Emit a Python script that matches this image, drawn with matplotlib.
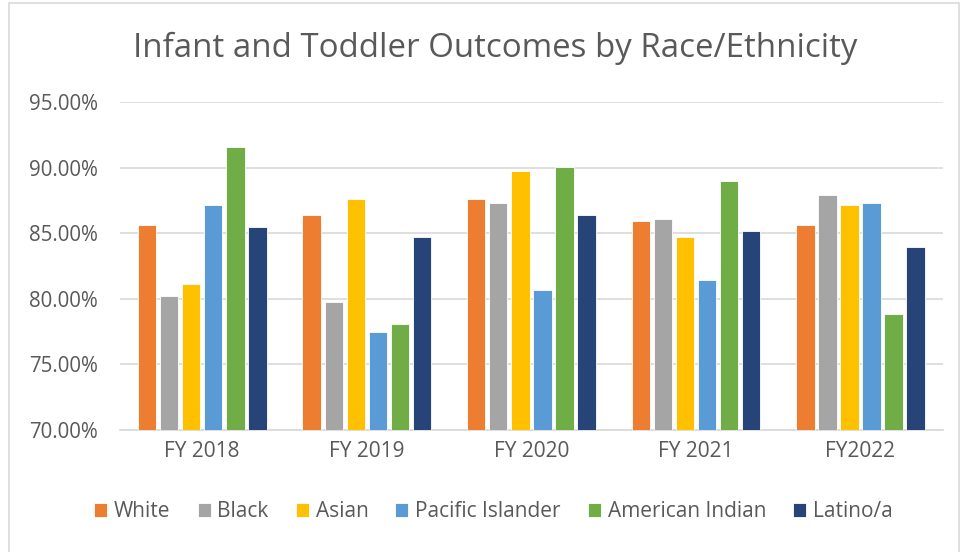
import numpy as np
import matplotlib
matplotlib.use("Agg")
import matplotlib.pyplot as plt
from matplotlib.ticker import FuncFormatter

# ── data ─────────────────────────────────────────────────────────────
years = ["FY 2018", "FY 2019", "FY 2020", "FY 2021", "FY2022"]
groups = ["White", "Black", "Asian", "Pacific Islander", "American Indian", "Latino/a"]
white = [85.63, 86.40, 87.64, 85.96, 85.63]
black = [80.20, 79.77, 87.34, 86.09, 87.92]
asian = [81.12, 87.61, 89.75, 84.75, 87.16]
pacific = [87.16, 77.49, 80.66, 81.42, 87.34]
american_indian = [91.57, 78.10, 90.05, 88.98, 78.81]
latino = [85.51, 84.75, 86.40, 85.18, 83.96]
series = [white, black, asian, pacific, american_indian, latino]
colors = ["#ED7D31", "#A5A5A5", "#FFC000", "#5B9BD5", "#70AD47", "#264478"]

plt.rcParams["font.family"] = ["Open Sans", "DejaVu Sans"]
txt = "#595959"

fig = plt.figure(figsize=(9.62, 5.52), dpi=100)
fig.patch.set_facecolor("white")
ax = fig.add_axes([0.1247, 0.221, 0.8553, 0.594])

x = np.arange(len(years))
step = 0.134
bw = 0.112
for i, (name, vals, c) in enumerate(zip(groups, series, colors)):
    ax.bar(x + (i - 2.5) * step, vals, width=bw, color=c, label=name,
           edgecolor="white", linewidth=0.6, zorder=3)

ax.set_xlim(-0.5, len(years) - 0.5)
ax.set_ylim(70, 95)
ax.set_yticks(np.arange(70, 95.1, 5))
ax.yaxis.set_major_formatter(FuncFormatter(lambda v, p: f"{v:.2f}%"))
ax.set_xticks(x)
ax.set_xticklabels(years)
ax.tick_params(axis="both", length=0, colors=txt)
ax.tick_params(axis="y", pad=16, labelsize=14.8)
ax.tick_params(axis="x", pad=8, labelsize=15)
ax.grid(axis="y", color="#D9D9D9", linewidth=1.2, zorder=0)
for s in ["top", "right", "left"]:
    ax.spines[s].set_visible(False)
ax.spines["bottom"].set_color("#D9D9D9")
ax.spines["bottom"].set_linewidth(1.2)

fig.text(0.515, 0.913, "Infant and Toddler Outcomes by Race/Ethnicity",
         ha="center", va="center", fontsize=23.8, color=txt)

fig.legend(loc="center", bbox_to_anchor=(0.513, 0.073), ncol=6, frameon=False,
           fontsize=15, labelcolor=txt, handlelength=0.62, handleheight=0.62,
           handletextpad=0.33, columnspacing=1.3)

fig.patches.append(plt.Rectangle((0.009, -0.01), 0.988, 1.004, transform=fig.transFigure,
                                 fill=False, edgecolor="#D9D9D9", linewidth=1.2))

plt.savefig("out.png", dpi=100)
